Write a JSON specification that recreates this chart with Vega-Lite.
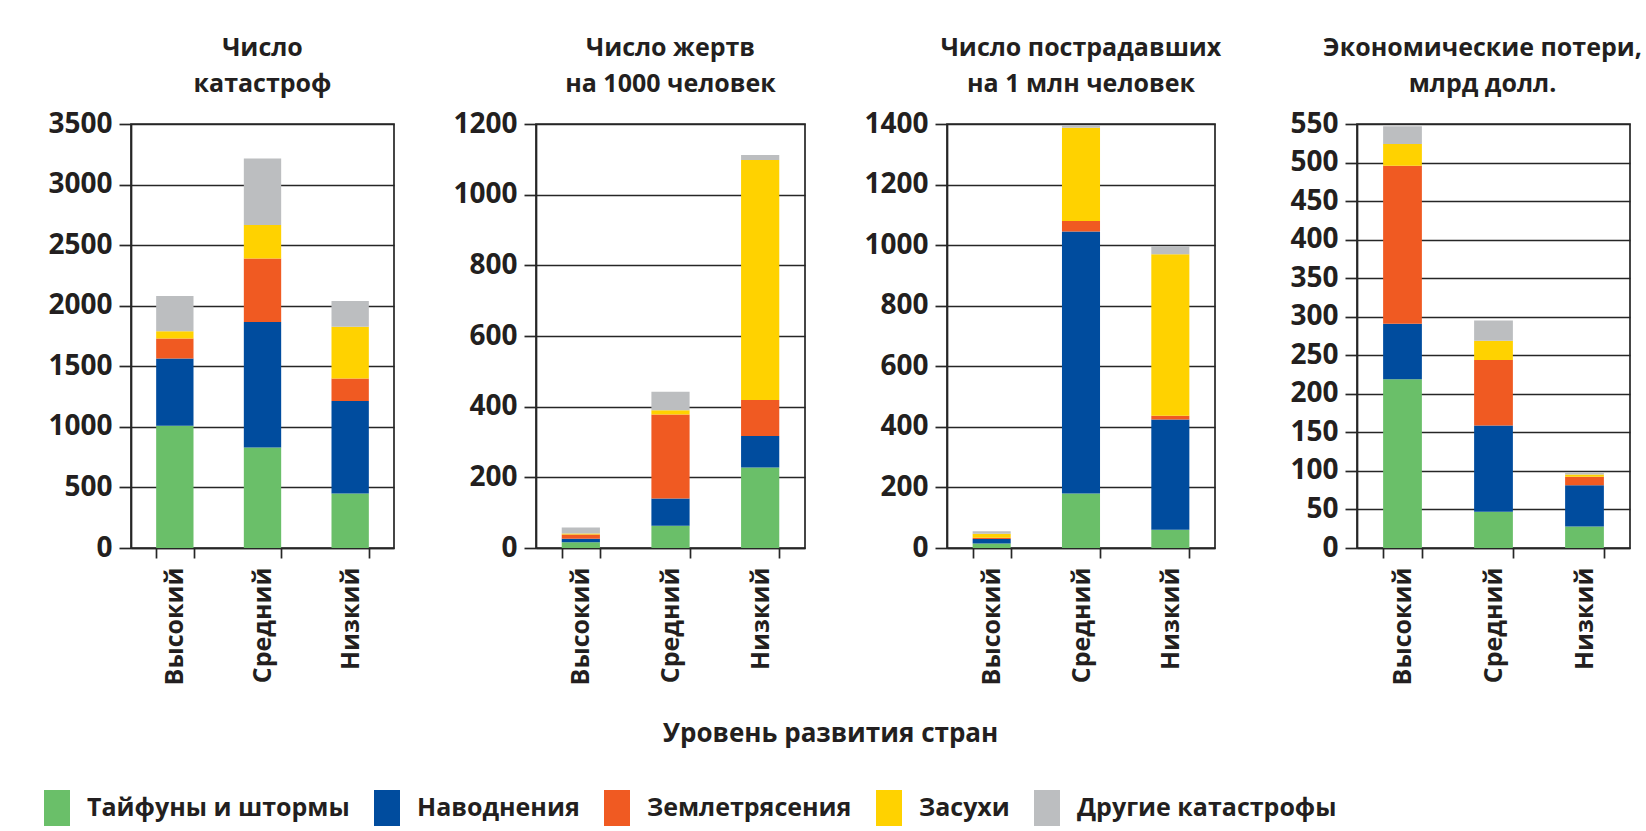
{
  "$schema": "https://vega.github.io/schema/vega-lite/v6.json",
  "background": "white",
  "padding": {"left": 39, "top": 35, "right": 0, "bottom": 0},
  "data": {"values": [
    {"p": 1, "level": "Высокий", "type": "Тайфуны и штормы", "k": 1, "value": 1009},
    {"p": 1, "level": "Высокий", "type": "Наводнения", "k": 2, "value": 556},
    {"p": 1, "level": "Высокий", "type": "Землетрясения", "k": 3, "value": 165},
    {"p": 1, "level": "Высокий", "type": "Засухи", "k": 4, "value": 60},
    {"p": 1, "level": "Высокий", "type": "Другие катастрофы", "k": 5, "value": 290},
    {"p": 1, "level": "Средний", "type": "Тайфуны и штормы", "k": 1, "value": 830},
    {"p": 1, "level": "Средний", "type": "Наводнения", "k": 2, "value": 1035},
    {"p": 1, "level": "Средний", "type": "Землетрясения", "k": 3, "value": 525},
    {"p": 1, "level": "Средний", "type": "Засухи", "k": 4, "value": 276},
    {"p": 1, "level": "Средний", "type": "Другие катастрофы", "k": 5, "value": 550},
    {"p": 1, "level": "Низкий", "type": "Тайфуны и штормы", "k": 1, "value": 450},
    {"p": 1, "level": "Низкий", "type": "Наводнения", "k": 2, "value": 763},
    {"p": 1, "level": "Низкий", "type": "Землетрясения", "k": 3, "value": 187},
    {"p": 1, "level": "Низкий", "type": "Засухи", "k": 4, "value": 426},
    {"p": 1, "level": "Низкий", "type": "Другие катастрофы", "k": 5, "value": 212},
    {"p": 2, "level": "Высокий", "type": "Тайфуны и штормы", "k": 1, "value": 16},
    {"p": 2, "level": "Высокий", "type": "Наводнения", "k": 2, "value": 10},
    {"p": 2, "level": "Высокий", "type": "Землетрясения", "k": 3, "value": 12},
    {"p": 2, "level": "Высокий", "type": "Засухи", "k": 4, "value": 3},
    {"p": 2, "level": "Высокий", "type": "Другие катастрофы", "k": 5, "value": 17},
    {"p": 2, "level": "Средний", "type": "Тайфуны и штормы", "k": 1, "value": 63},
    {"p": 2, "level": "Средний", "type": "Наводнения", "k": 2, "value": 77},
    {"p": 2, "level": "Средний", "type": "Землетрясения", "k": 3, "value": 238},
    {"p": 2, "level": "Средний", "type": "Засухи", "k": 4, "value": 12},
    {"p": 2, "level": "Средний", "type": "Другие катастрофы", "k": 5, "value": 52},
    {"p": 2, "level": "Низкий", "type": "Тайфуны и штормы", "k": 1, "value": 228},
    {"p": 2, "level": "Низкий", "type": "Наводнения", "k": 2, "value": 89},
    {"p": 2, "level": "Низкий", "type": "Землетрясения", "k": 3, "value": 102},
    {"p": 2, "level": "Низкий", "type": "Засухи", "k": 4, "value": 679},
    {"p": 2, "level": "Низкий", "type": "Другие катастрофы", "k": 5, "value": 14},
    {"p": 3, "level": "Высокий", "type": "Тайфуны и штормы", "k": 1, "value": 15},
    {"p": 3, "level": "Высокий", "type": "Наводнения", "k": 2, "value": 15},
    {"p": 3, "level": "Высокий", "type": "Землетрясения", "k": 3, "value": 4},
    {"p": 3, "level": "Высокий", "type": "Засухи", "k": 4, "value": 13},
    {"p": 3, "level": "Высокий", "type": "Другие катастрофы", "k": 5, "value": 8},
    {"p": 3, "level": "Средний", "type": "Тайфуны и штормы", "k": 1, "value": 180},
    {"p": 3, "level": "Средний", "type": "Наводнения", "k": 2, "value": 865},
    {"p": 3, "level": "Средний", "type": "Землетрясения", "k": 3, "value": 35},
    {"p": 3, "level": "Средний", "type": "Засухи", "k": 4, "value": 308},
    {"p": 3, "level": "Средний", "type": "Другие катастрофы", "k": 5, "value": 9},
    {"p": 3, "level": "Низкий", "type": "Тайфуны и штормы", "k": 1, "value": 60},
    {"p": 3, "level": "Низкий", "type": "Наводнения", "k": 2, "value": 364},
    {"p": 3, "level": "Низкий", "type": "Землетрясения", "k": 3, "value": 13},
    {"p": 3, "level": "Низкий", "type": "Засухи", "k": 4, "value": 533},
    {"p": 3, "level": "Низкий", "type": "Другие катастрофы", "k": 5, "value": 27},
    {"p": 4, "level": "Высокий", "type": "Тайфуны и штормы", "k": 1, "value": 219},
    {"p": 4, "level": "Высокий", "type": "Наводнения", "k": 2, "value": 72},
    {"p": 4, "level": "Высокий", "type": "Землетрясения", "k": 3, "value": 205},
    {"p": 4, "level": "Высокий", "type": "Засухи", "k": 4, "value": 28},
    {"p": 4, "level": "Высокий", "type": "Другие катастрофы", "k": 5, "value": 23},
    {"p": 4, "level": "Средний", "type": "Тайфуны и штормы", "k": 1, "value": 47},
    {"p": 4, "level": "Средний", "type": "Наводнения", "k": 2, "value": 112},
    {"p": 4, "level": "Средний", "type": "Землетрясения", "k": 3, "value": 85},
    {"p": 4, "level": "Средний", "type": "Засухи", "k": 4, "value": 25},
    {"p": 4, "level": "Средний", "type": "Другие катастрофы", "k": 5, "value": 26},
    {"p": 4, "level": "Низкий", "type": "Тайфуны и штормы", "k": 1, "value": 28},
    {"p": 4, "level": "Низкий", "type": "Наводнения", "k": 2, "value": 53.5},
    {"p": 4, "level": "Низкий", "type": "Землетрясения", "k": 3, "value": 11},
    {"p": 4, "level": "Низкий", "type": "Засухи", "k": 4, "value": 3},
    {"p": 4, "level": "Низкий", "type": "Другие катастрофы", "k": 5, "value": 2}
  ]},
  "bounds": "flush",
  "spacing": 142,
  "hconcat": [
    {
      "width": 263, "height": 424,
      "title": {"text": ["Число", "катастроф"]},
      "transform": [{"filter": "datum.p == 1"}],
      "mark": {"type": "bar"},
      "encoding": {
        "x": {"field": "level", "type": "nominal", "sort": ["Высокий", "Средний", "Низкий"], "scale": {"paddingInner": 0.574, "paddingOuter": 0.287}, "axis": {"title": null}},
        "y": {"field": "value", "type": "quantitative", "stack": "zero", "scale": {"domain": [0, 3500], "nice": false}, "axis": {"title": null, "format": "d", "values": [0, 500, 1000, 1500, 2000, 2500, 3000, 3500]}},
        "color": {"field": "type", "type": "nominal", "scale": {"domain": ["Тайфуны и штормы", "Наводнения", "Землетрясения", "Засухи", "Другие катастрофы"], "range": ["#6abf69", "#004c9e", "#f05a22", "#ffd200", "#bcbec0"]}, "legend": {"title": null}},
        "order": {"field": "k", "type": "quantitative", "sort": "ascending"}
      }
    },
    {
      "width": 269, "height": 424,
      "title": {"text": ["Число жертв", "на 1000 человек"]},
      "transform": [{"filter": "datum.p == 2"}],
      "mark": {"type": "bar"},
      "encoding": {
        "x": {"field": "level", "type": "nominal", "sort": ["Высокий", "Средний", "Низкий"], "scale": {"paddingInner": 0.574, "paddingOuter": 0.287}, "axis": {"title": "Уровень развития стран", "titleX": 294, "titleY": 172, "titleAlign": "center", "titleBaseline": "top", "titleFont": "Open Sans", "titleFontSize": 26, "titleFontWeight": "bold", "titleColor": "#231f20"}},
        "y": {"field": "value", "type": "quantitative", "stack": "zero", "scale": {"domain": [0, 1200], "nice": false}, "axis": {"title": null, "format": "d", "values": [0, 200, 400, 600, 800, 1000, 1200]}},
        "color": {"field": "type", "type": "nominal", "scale": {"domain": ["Тайфуны и штормы", "Наводнения", "Землетрясения", "Засухи", "Другие катастрофы"], "range": ["#6abf69", "#004c9e", "#f05a22", "#ffd200", "#bcbec0"]}, "legend": {"title": null}},
        "order": {"field": "k", "type": "quantitative", "sort": "ascending"}
      }
    },
    {
      "width": 268, "height": 424,
      "title": {"text": ["Число пострадавших", "на 1 млн человек"]},
      "transform": [{"filter": "datum.p == 3"}],
      "mark": {"type": "bar"},
      "encoding": {
        "x": {"field": "level", "type": "nominal", "sort": ["Высокий", "Средний", "Низкий"], "scale": {"paddingInner": 0.574, "paddingOuter": 0.287}, "axis": {"title": null}},
        "y": {"field": "value", "type": "quantitative", "stack": "zero", "scale": {"domain": [0, 1400], "nice": false}, "axis": {"title": null, "format": "d", "values": [0, 200, 400, 600, 800, 1000, 1200, 1400]}},
        "color": {"field": "type", "type": "nominal", "scale": {"domain": ["Тайфуны и штормы", "Наводнения", "Землетрясения", "Засухи", "Другие катастрофы"], "range": ["#6abf69", "#004c9e", "#f05a22", "#ffd200", "#bcbec0"]}, "legend": {"title": null}},
        "order": {"field": "k", "type": "quantitative", "sort": "ascending"}
      }
    },
    {
      "width": 273, "height": 424,
      "title": {"text": ["Экономические потери,", "млрд долл."], "dx": -11},
      "transform": [{"filter": "datum.p == 4"}],
      "mark": {"type": "bar"},
      "encoding": {
        "x": {"field": "level", "type": "nominal", "sort": ["Высокий", "Средний", "Низкий"], "scale": {"paddingInner": 0.574, "paddingOuter": 0.287}, "axis": {"title": null}},
        "y": {"field": "value", "type": "quantitative", "stack": "zero", "scale": {"domain": [0, 550], "nice": false}, "axis": {"title": null, "format": "d", "values": [0, 50, 100, 150, 200, 250, 300, 350, 400, 450, 500, 550]}},
        "color": {"field": "type", "type": "nominal", "scale": {"domain": ["Тайфуны и штормы", "Наводнения", "Землетрясения", "Засухи", "Другие катастрофы"], "range": ["#6abf69", "#004c9e", "#f05a22", "#ffd200", "#bcbec0"]}, "legend": {"title": null}},
        "order": {"field": "k", "type": "quantitative", "sort": "ascending"}
      }
    }
  ],
  "config": {
    "font": "Open Sans",
    "view": {"stroke": "#262626", "strokeWidth": 1.7},
    "axis": {"labelFont": "Open Sans", "labelFontWeight": "bold", "labelColor": "#231f20", "labelFontSize": 28, "domainColor": "#262626", "domainWidth": 1.7, "tickColor": "#262626", "tickWidth": 1.7, "gridColor": "#262626", "gridWidth": 1.7, "gridOpacity": 1},
    "axisX": {"labelAngle": -90, "tickSize": 10, "labelPadding": 9, "tickBand": "extent", "grid": false, "labelFontSize": 25},
    "axisY": {"tickSize": 12, "labelPadding": 7, "grid": true},
    "title": {"font": "Open Sans", "fontSize": 25, "fontWeight": "bold", "color": "#231f20", "lineHeight": 36, "anchor": "middle", "offset": 13},
    "legend": {"orient": "none", "legendX": -92, "legendY": 666, "direction": "horizontal", "labelFont": "Open Sans", "labelFontSize": 25, "labelFontWeight": "bold", "labelColor": "#231f20", "symbolType": "M-0.722,-1H0.722V1H-0.722Z", "symbolSize": 1296, "symbolStrokeWidth": 0, "symbolOpacity": 1, "columnPadding": 19, "labelOffset": 12, "labelLimit": 400}
  }
}
